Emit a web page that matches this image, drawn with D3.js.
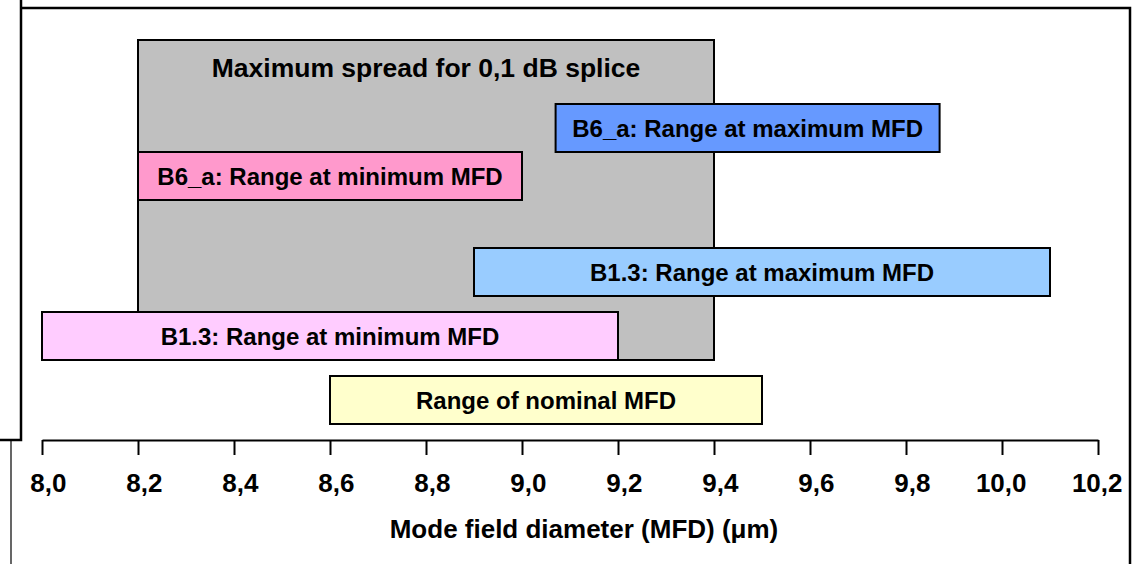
<!DOCTYPE html>
<html>
<head>
<meta charset="utf-8">
<script src="https://cdn.jsdelivr.net/npm/d3@7"></script>
<style>
  body { margin: 0; background: #fff; }
  svg text { font-family: "Liberation Sans", Arial, sans-serif; font-weight: bold; fill: #000; }
</style>
</head>
<body>
<div id="chart"></div>
<script>
// MFD ranges (um) and the rows they sit on (row units)
const rangeLabels = [
  "Maximum spread for 0,1 dB splice",
  "Range of nominal MFD",
  "B1.3: Range at minimum MFD",
  "B1.3: Range at maximum MFD",
  "B6_a: Range at minimum MFD",
  "B6_a: Range at maximum MFD"
];
const rangeMin = [8.2, 8.6, 8.0, 8.9, 8.2, 9.07];
const rangeMax = [9.4, 9.5, 9.2, 10.1, 9.0, 9.87];
const rowLow = [5, 1, 5, 9, 15, 18];
const rowHigh = [25, 4, 8, 12, 18, 21];
const tickValues = [8.0, 8.2, 8.4, 8.6, 8.8, 9.0, 9.2, 9.4, 9.6, 9.8, 10.0, 10.2];
const axisTitle = "Mode field diameter (MFD) (\u03bcm)";

const width = 1135;
const height = 564;

const fillColors = ["#C0C0C0", "#FFFFCC", "#FFCCFF", "#99CCFF", "#FF99CC", "#6699FF"];
const color = d3.scaleOrdinal().domain(rangeLabels).range(fillColors);

const x = d3.scaleLinear().domain([8.0, 10.2]).range([42, 1098]);
const y = d3.scaleLinear().domain([0, 27]).range([440, 8]);

const commaLocale = d3.formatLocale({ decimal: ",", thousands: ".", grouping: [3], currency: ["", ""] });
const fmt = commaLocale.format(".1f");

const svg = d3.select("#chart")
  .append("svg")
  .attr("width", width)
  .attr("height", height);

// frame lines
const frame = svg.append("g")
  .attr("fill", "none")
  .attr("stroke", "#000");

frame.append("path")
  .attr("stroke-width", 2.5)
  .attr("d", "M21,0V440H0 M21,8H1130V564");

frame.append("path")
  .attr("stroke-width", 1.2)
  .attr("d", "M11,440V564");

const ranges = rangeLabels.map((label, i) => ({
  label: label,
  min: rangeMin[i],
  max: rangeMax[i],
  low: rowLow[i],
  high: rowHigh[i]
}));

// gray spread box first, then the coloured ranges on top
const spread = ranges[0];
const others = ranges.slice(1);

svg.append("rect")
  .attr("x", x(spread.min))
  .attr("y", y(spread.high))
  .attr("width", x(spread.max) - x(spread.min))
  .attr("height", y(spread.low) - y(spread.high))
  .attr("fill", color(spread.label))
  .attr("stroke", "#000")
  .attr("stroke-width", 2);

svg.append("text")
  .attr("x", (x(spread.min) + x(spread.max)) / 2)
  .attr("y", y(spread.high) + 37)
  .attr("text-anchor", "middle")
  .attr("font-size", "26.5px")
  .text(spread.label);

const bars = svg.selectAll(".range")
  .data(others)
  .enter()
  .append("g")
  .attr("class", "range");

bars.append("rect")
  .attr("x", d => x(d.min))
  .attr("y", d => y(d.high))
  .attr("width", d => x(d.max) - x(d.min))
  .attr("height", d => y(d.low) - y(d.high))
  .attr("fill", d => color(d.label))
  .attr("stroke", "#000")
  .attr("stroke-width", 2);

bars.append("text")
  .attr("x", d => (x(d.min) + x(d.max)) / 2)
  .attr("y", d => (y(d.low) + y(d.high)) / 2 + 8.5)
  .attr("text-anchor", "middle")
  .attr("font-size", "24px")
  .text(d => d.label);

// x axis
const xAxis = d3.axisBottom(x)
  .tickValues(tickValues)
  .tickFormat(fmt)
  .tickSize(15)
  .tickSizeOuter(0);

const axisG = svg.append("g")
  .attr("transform", `translate(0, ${y(0)})`)
  .call(xAxis);

axisG.select(".domain").attr("stroke", "#000").attr("stroke-width", 2);
axisG.selectAll(".tick line").attr("stroke", "#000").attr("stroke-width", 2);
axisG.selectAll(".tick text")
  .attr("text-anchor", "end")
  .attr("x", 24)
  .attr("y", 52)
  .attr("dy", null)
  .attr("font-size", "26px")
  .attr("font-family", null);

svg.append("text")
  .attr("x", 584)
  .attr("y", 538)
  .attr("text-anchor", "middle")
  .attr("font-size", "26px")
  .text(axisTitle);
</script>
</body>
</html>
